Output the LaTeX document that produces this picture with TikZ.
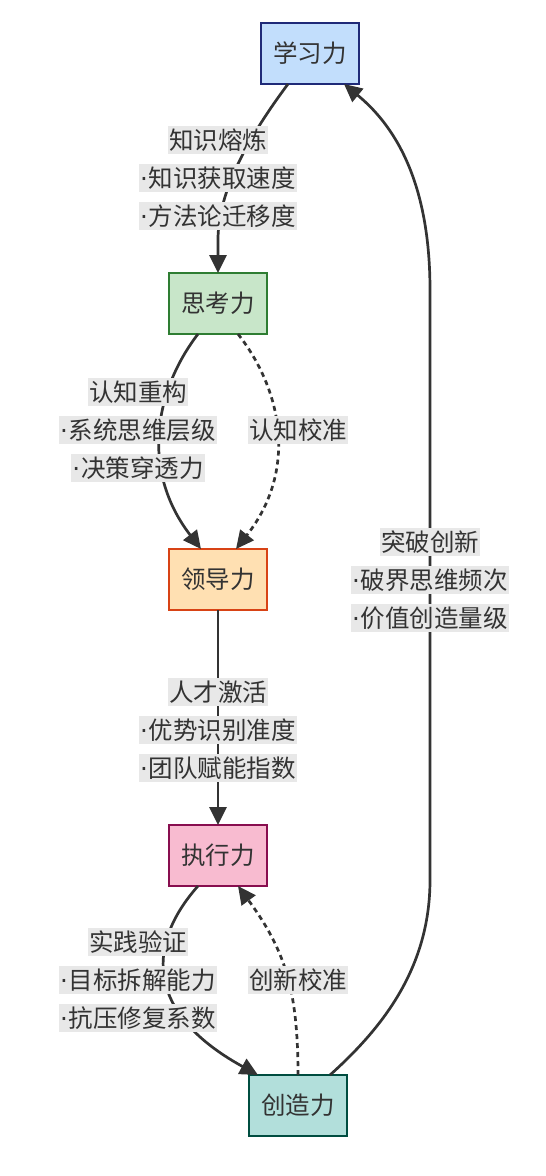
\documentclass[tikz,border=0pt]{standalone}
\usepackage{fontspec}
\setmainfont{Noto Sans CJK SC}
\newfontfamily\dotfont{DejaVu Sans}
\newcommand\mdot{{\dotfont ·}\kern1pt}
\usetikzlibrary{arrows.meta}
\definecolor{ink}{HTML}{333333}
\definecolor{lblbg}{HTML}{E8E8E8}
\definecolor{bxfill}{HTML}{C2DEFC}
\definecolor{bxdraw}{HTML}{1F2A78}
\definecolor{gnfill}{HTML}{C8E6C9}
\definecolor{gndraw}{HTML}{2E7D32}
\definecolor{orfill}{HTML}{FFE0B2}
\definecolor{ordraw}{HTML}{D84315}
\definecolor{pkfill}{HTML}{F8BBD0}
\definecolor{pkdraw}{HTML}{880E4F}
\definecolor{tlfill}{HTML}{B2DFDB}
\definecolor{tldraw}{HTML}{004D40}
\tikzset{
  box/.style={draw, line width=1.3pt, minimum width=98pt, minimum height=61pt, inner sep=0pt, outer sep=0pt, text=ink, font=\fontsize{24.5}{28}\selectfont},
  lbl/.style={fill=lblbg, text=ink, inner xsep=1pt, inner ysep=0pt, minimum height=28pt, font=\fontsize{24.5}{28}\selectfont},
  edge/.style={draw=ink, line width=2.7pt, -{Triangle[length=18pt,width=17pt]}},
  dedge/.style={edge, dash pattern=on 5pt off 4pt}
}
\begin{document}
\begin{tikzpicture}[x=1pt,y=-1pt]
\useasboundingbox (0,0) rectangle (546,1176);
% nodes
\node[box, fill=bxfill, draw=bxdraw] (xue) at (310,53.5) {学习力};
\node[box, fill=gnfill, draw=gndraw] (si) at (218,303.5) {思考力};
\node[box, fill=orfill, draw=ordraw] (ling) at (218,579.5) {领导力};
\node[box, fill=pkfill, draw=pkdraw] (zhi) at (218,855.5) {执行力};
\node[box, fill=tlfill, draw=tldraw] (chuang) at (298,1105.5) {创造力};
% edges
\draw[edge] ([xshift=-22pt]xue.south) .. controls (250,135) and (218,190) .. (218,240) -- (si.north);
\draw[edge] ([xshift=-20pt]si.south) .. controls (155,390) and (140,470) .. ([xshift=-17pt]ling.north);
\draw[dedge] ([xshift=20pt]si.south) .. controls (282,390) and (298,470) .. ([xshift=18pt]ling.north);
\draw[edge] (ling.south) -- (zhi.north);
\draw[edge] ([xshift=-20pt]zhi.south) .. controls (150,940) and (140,1010) .. ([xshift=-40pt]chuang.north);
\draw[dedge] (chuang.north) .. controls (298,990) and (285,950) .. ([xshift=20pt]zhi.south);
\draw[edge] ([xshift=32pt]chuang.north) .. controls (380,1030) and (430,970) .. (430,880) -- (430,290) .. controls (430,190) and (400,130) .. ([xshift=34pt]xue.south);
% labels
\node[lbl] (l1a) at (218,140) {知识熔炼};
\node[lbl] (l1b) at (218,178) {\mdot 知识获取速度};
\node[lbl] (l1c) at (218,216) {\mdot 方法论迁移度};
\node[lbl] (l2a) at (138,392) {认知重构};
\node[lbl] (l2b) at (138,430) {\mdot 系统思维层级};
\node[lbl] (l2c) at (138,468) {\mdot 决策穿透力};
\node[lbl] (l3) at (298,430) {认知校准};
\node[lbl] (l4a) at (218,692) {人才激活};
\node[lbl] (l4b) at (218,730) {\mdot 优势识别准度};
\node[lbl] (l4c) at (218,768) {\mdot 团队赋能指数};
\node[lbl] (l5a) at (138,942) {实践验证};
\node[lbl] (l5b) at (138,980) {\mdot 目标拆解能力};
\node[lbl] (l5c) at (138,1018) {\mdot 抗压修复系数};
\node[lbl] (l6) at (298,980) {创新校准};
\node[lbl] (l7a) at (430,542) {突破创新};
\node[lbl] (l7b) at (430,580) {\mdot 破界思维频次};
\node[lbl] (l7c) at (430,618) {\mdot 价值创造量级};
\end{tikzpicture}
\end{document}
